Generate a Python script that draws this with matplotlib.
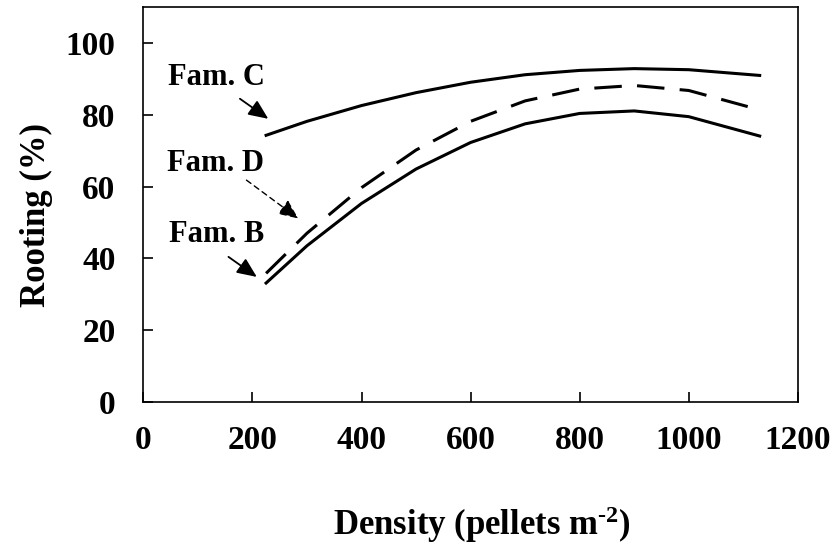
import numpy as np
import matplotlib
matplotlib.use("Agg")
import matplotlib.pyplot as plt

plt.rcParams['font.family'] = ['Liberation Serif', 'DejaVu Serif']
plt.rcParams['font.weight'] = 'bold'
plt.rcParams['mathtext.fontset'] = 'custom'
plt.rcParams['mathtext.rm'] = 'Liberation Serif:bold'
plt.rcParams['mathtext.bf'] = 'Liberation Serif:bold'
plt.rcParams['mathtext.it'] = 'Liberation Serif:bold'

# densidade (pellets m-2) e enraizamento (%) de cada família
densidade = [225, 300, 400, 500, 600, 700, 800, 900, 1000, 1130]
fam_c = [74.3, 78.2, 82.6, 86.2, 89.1, 91.2, 92.4, 92.9, 92.6, 91.0]
fam_d = [35.8, 47.0, 59.7, 70.2, 78.2, 83.9, 87.2, 88.2, 86.8, 81.4]
fam_b = [33.1, 43.5, 55.3, 64.9, 72.3, 77.5, 80.4, 81.1, 79.5, 74.1]

fig = plt.figure(figsize=(8.38, 5.54), dpi=100)
ax = fig.add_axes([0.1711, 0.2749, 0.781, 0.7119])

ax.plot(densidade, fam_c, color='black', lw=2.2)
ax.plot(densidade, fam_d, color='black', lw=2.2, dashes=(9, 5))
ax.plot(densidade, fam_b, color='black', lw=2.2)

ax.set_xlim(0, 1200)
ax.set_ylim(0, 110)
ax.set_xticks(range(0, 1201, 200))
ax.set_yticks(range(0, 101, 20))
ax.tick_params(direction='in', length=7, width=1.2, labelsize=24, pad=17)
ax.tick_params(axis='y', pad=20)
for s in ax.spines.values():
    s.set_linewidth(1.2)

# rótulos das famílias com setas
seta = dict(arrowstyle='-|>,head_length=0.8,head_width=0.35', mutation_scale=15,
            color='black', lw=1.3, shrinkA=0, shrinkB=0)
ax.text(134, 88.2, 'Fam. C', fontsize=22, ha='center', va='baseline')
ax.annotate('', xy=(229, 78.9), xytext=(177, 84.5), arrowprops=seta)
ax.text(133, 64.4, 'Fam. D', fontsize=22, ha='center', va='baseline')
ax.annotate('', xy=(284, 51.1), xytext=(189, 61.8), arrowprops=dict(seta, ls=(0, (4, 3)), lw=1.0))
ax.text(134, 44.6, 'Fam. B', fontsize=22, ha='center', va='baseline')
ax.annotate('', xy=(208, 34.8), xytext=(156, 40.4), arrowprops=seta)

# títulos dos eixos
fig.text(45 / 838, 1 - 215 / 554, 'Rooting (%)', fontsize=25, rotation=90,
         rotation_mode='anchor', ha='center', va='baseline')
fig.text(482 / 838, 1 - 535 / 554, 'Density (pellets m$^{\\text{-2}}$)', fontsize=25,
         ha='center', va='baseline')

fig.savefig('out.png', dpi=100)
